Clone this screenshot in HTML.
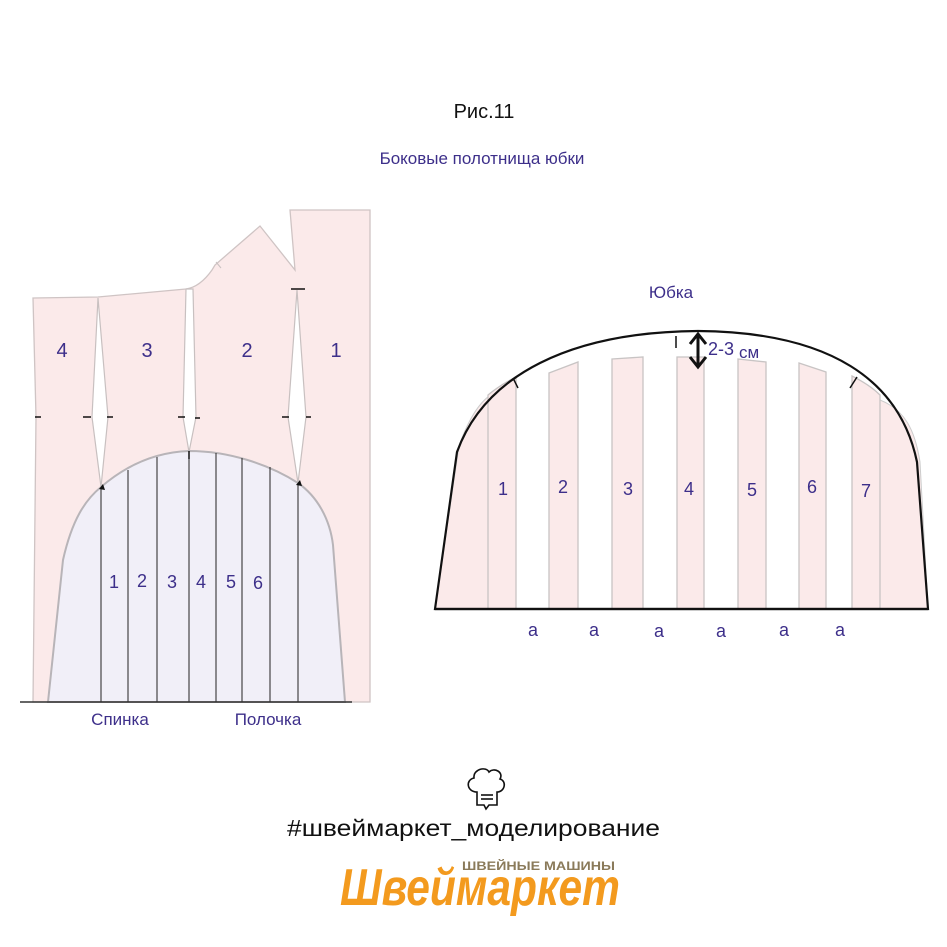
<!DOCTYPE html>
<html><head><meta charset="utf-8"><style>
html,body{margin:0;padding:0;background:#fff;}
svg{display:block;}
text{font-family:"Liberation Sans",sans-serif;}
</style></head><body>
<svg width="947" height="947" viewBox="0 0 947 947" xmlns="http://www.w3.org/2000/svg">
<rect width="947" height="947" fill="#fff"/>
<text x="484" y="118" font-size="20" text-anchor="middle" fill="#111">Рис.11</text>
<text x="482" y="164" font-size="17" text-anchor="middle" fill="#3d2f8a">Боковые полотнища юбки</text>

<!-- LEFT FIGURE -->
<path d="M33,298 L98,297 L186,289 Q200,287 212,270 L215,265 L260,226 L295,270 L290,210 L370,210 L370,702 L33,702 L36,417 Z" fill="#fbeaea" stroke="#cfc4c4" stroke-width="1.3"/>
<path d="M98,298 L92,417 L101,487 L108,417 Z" fill="#fff" stroke="#c8c0c0" stroke-width="1.2"/>
<path d="M186,289 L183,417 L189,452 L196,417 L193,289 Z" fill="#fff" stroke="#c8c0c0" stroke-width="1.2"/>
<path d="M297,290 L288,417 L298,483 L306,417 Z" fill="#fff" stroke="#c8c0c0" stroke-width="1.2"/>
<path d="M216,262 L221,268" stroke="#c8c0c0" stroke-width="1"/>
<path d="M48,702 L63,560 C72,520 85,500 101,487 C130,462 160,452 189,451 C230,451 270,465 298,483 C318,497 330,520 333,545 L345,702 Z" fill="#f1eff8" stroke="#b8b4b8" stroke-width="2"/>
<g stroke="#222" stroke-width="1">
<line x1="101" y1="487" x2="101" y2="702"/>
<line x1="128" y1="470" x2="128" y2="702"/>
<line x1="157" y1="457" x2="157" y2="702"/>
<line x1="189" y1="451" x2="189" y2="702"/>
<line x1="216" y1="453" x2="216" y2="702"/>
<line x1="242" y1="458" x2="242" y2="702"/>
<line x1="270" y1="467" x2="270" y2="702"/>
<line x1="298" y1="483" x2="298" y2="702"/>
</g>
<line x1="20" y1="702" x2="352" y2="702" stroke="#333" stroke-width="1.5"/>
<g stroke="#111" stroke-width="1.5">
<line x1="35" y1="417" x2="41" y2="417"/>
<line x1="83" y1="417" x2="91" y2="417"/>
<line x1="107" y1="417" x2="113" y2="417"/>
<line x1="178" y1="417" x2="185" y2="417"/>
<line x1="195" y1="418" x2="200" y2="418"/>
<line x1="282" y1="417" x2="289" y2="417"/>
<line x1="306" y1="417" x2="311" y2="417"/>
<line x1="291" y1="289" x2="305" y2="289"/>
<line x1="189" y1="451" x2="189" y2="459"/>
</g>
<path d="M99,489 L103,484 L105,490 Z M296,485 L300,480 L302,486 Z" fill="#111"/>
<g fill="#3d2f8a" font-size="20" text-anchor="middle">
<text x="62" y="357">4</text><text x="147" y="357">3</text><text x="247" y="357">2</text><text x="336" y="357">1</text>
</g>
<g fill="#3d2f8a" font-size="18" text-anchor="middle">
<text x="114" y="588">1</text><text x="142" y="587">2</text><text x="172" y="588">3</text><text x="201" y="588">4</text><text x="231" y="588">5</text><text x="258" y="589">6</text>
</g>
<text x="120" y="725" font-size="17" fill="#3d2f8a" text-anchor="middle">Спинка</text>
<text x="268" y="725" font-size="17" fill="#3d2f8a" text-anchor="middle">Полочка</text>

<!-- RIGHT FIGURE -->
<text x="671" y="298" font-size="17" fill="#3d2f8a" text-anchor="middle">Юбка</text>
<path d="M435,609 L459,446 C470,415 482,398 496,392 L488,396 L488,609 Z" fill="#fbeaea" stroke="#ccc" stroke-width="1"/>
<path d="M880,400 C905,410 915,430 920,462 L928,609 L880,609 Z" fill="#fbeaea" stroke="#ccc" stroke-width="1"/>
<g fill="#fbeaea" stroke="#c8c4c4" stroke-width="1.3">
<path d="M488,395 Q500,385 516,377 L516,609 L488,609 Z"/>
<path d="M549,373 L578,362 L578,609 L549,609 Z"/>
<path d="M612,359 L643,357 L643,609 L612,609 Z"/>
<path d="M677,357 L704,357 L704,609 L677,609 Z"/>
<path d="M738,359 L766,362 L766,609 L738,609 Z"/>
<path d="M799,363 L826,372 L826,609 L799,609 Z"/>
<path d="M852,376 Q870,385 880,395 L880,609 L852,609 Z"/>
</g>
<path d="M435,609 L457,452 C485,375 570,332 698,331 C830,332 900,380 917,462 L928,609 Z" fill="none" stroke="#111" stroke-width="2.2"/>
<line x1="435" y1="609" x2="928" y2="609" stroke="#111" stroke-width="2.2"/>
<g stroke="#111" stroke-width="1.5">
<line x1="513" y1="378" x2="518" y2="388"/>
<line x1="857" y1="377" x2="850" y2="388"/>
<line x1="676" y1="336" x2="676" y2="348"/>
</g>
<g stroke="#111" stroke-width="3" fill="none">
<line x1="698" y1="334" x2="698" y2="366"/>
<polyline points="690,344 698,334 706,344"/>
<polyline points="690,357 698,367 706,357"/>
</g>
<text x="708" y="355" font-size="18" fill="#3d2f8a">2-3</text>
<text x="739" y="358" font-size="17" fill="#3d2f8a">см</text>
<g fill="#3d2f8a" font-size="18" text-anchor="middle">
<text x="503" y="495">1</text><text x="563" y="493">2</text><text x="628" y="495">3</text><text x="689" y="495">4</text><text x="752" y="496">5</text><text x="812" y="493">6</text><text x="866" y="497">7</text>
</g>
<g fill="#3d2f8a" font-size="18" text-anchor="middle">
<text x="533" y="636">a</text><text x="594" y="636">a</text><text x="659" y="637">a</text><text x="721" y="637">a</text><text x="784" y="636">a</text><text x="840" y="636">a</text>
</g>

<!-- BOTTOM LOGO -->
<g fill="none" stroke="#111" stroke-width="1.6">
<path d="M477,792 C467,792 465,780 474,778 C473,769 486,766 489,772 C494,767 504,772 500,779 C507,781 505,792 497,792 L497,805 L489,805 L486,809 L484,805 L477,805 Z"/>
<line x1="481" y1="795" x2="493" y2="795"/><line x1="481" y1="799" x2="493" y2="799"/>
</g>
<text x="287" y="836" font-size="23" fill="#111" textLength="373" lengthAdjust="spacingAndGlyphs">#швеймаркет_моделирование</text>
<text x="462" y="870" font-size="11.5" font-weight="bold" fill="#8a7a5a" textLength="153" lengthAdjust="spacingAndGlyphs">ШВЕЙНЫЕ МАШИНЫ</text>
<text x="340" y="905" font-size="52" font-weight="bold" font-style="italic" fill="#f39a1e" font-family="Liberation Serif, serif" textLength="280" lengthAdjust="spacingAndGlyphs">Швеймаркет</text>
</svg>
</body></html>
